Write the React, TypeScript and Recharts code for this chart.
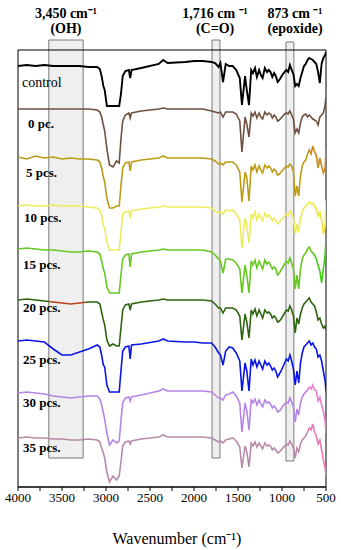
import React from 'react';
import { LineChart, Line, XAxis, YAxis, ReferenceArea, ReferenceDot } from 'recharts';

const wavenumbers = [4000, 3900, 3800, 3700, 3600, 3500, 3400, 3300, 3200, 3100,
  3070, 3050, 3030, 3015,
  2990, 2960, 2920, 2880, 2850, 2830, 2810, 2780, 2740, 2725, 2710,
  2600, 2400, 2350, 2300, 2100, 2000, 1900,
  1800, 1760, 1720, 1700, 1670, 1640, 1600, 1560, 1520, 1480,
  1455, 1420, 1400, 1375, 1350, 1330, 1307, 1285, 1260, 1240, 1220, 1195, 1170, 1150, 1130, 1110, 1090, 1070, 1050, 1030, 1010,
  990, 970, 950, 930, 910, 890, 870, 850, 830, 810, 790, 770, 750, 730, 710, 690, 670, 650, 630, 610, 590, 570, 550, 530, 510,
  500];

const seriesNames = ['control', '0 pc.', '5 pcs.', '10 pcs.', '15 pcs.', '20 pcs.', '25 pcs.', '30 pcs.', '35 pcs.'];
const seriesColors = ['#000000', '#6e5040', '#bc9c14', '#ecec5c', '#66c81e', '#2e6410', '#0a14e6', '#b585e6', '#b88aa8'];
const accentColors = ['#000000', '#6e5040', '#cc8a1c', '#f2e63a', '#3fd010', '#c0401a', '#0a14e6', '#e57fd0', '#ee78b8'];
const stackOffsets = [421, 378, 329, 281, 238, 187, 146, 94, 49];

const controlT = [0, 1, 0, 1, 0, 0, 0, 0, -1, -1,
  -3, -10, -20, -24,
  -40, -40, -40, -40, -40, -28, -10, -5, -4, -12, -4,
  -2, 2, 6, 3, 4, 5, 5,
  4, 3, -1, 3, -16, 2, 0, 0, -4, -12,
  -39, -10, -24, -39, -4, -7, -2, -11, -4, -9, -12, -2, -6, -4, -6, -11, -7, -10, -16, -14, -11,
  -8, -6, -4, -6, 1, -4, -8, -20, -18, -20, -12, -6, 0, 2, 6, 8, 7, 6, 4, 2, -6, -17, 2, 8, 11,
  14];
const pc0T = [0, 0, 0, 0, 0, 0, 0, 0, 0, -1,
  -3, -8, -16, -22,
  -40, -56, -58, -52, -54, -30, -12, -6, -4, -9, -4,
  -2, 0, 1, 0, 0, 0, 0,
  -2, -3, -4, -3, -8, -3, -3, -3, -5, -12,
  -43, -8, -15, -28, -4, -7, -3, -9, -4, -8, -10, -3, -6, -4, -5, -9, -6, -8, -12, -11, -9,
  -7, -5, -4, -5, -2, -6, -10, -24, -20, -24, -14, -8, -6, -5, -8, -6, -8, -10, -11, -12, -16, -8, -6, -4, 4,
  12];
const pcs5T = [1, -1, 2, 0, 1, -1, 0, -1, -1, -2,
  -4, -10, -19, -24,
  -40, -50, -50, -48, -48, -28, -10, -5, -4, -13, -4,
  -2, 0, 2, 0, 0, 0, 0,
  -1, -3, -6, -5, -7, -4, -4, -4, -7, -14,
  -44, -14, -20, -43, -8, -12, -7, -14, -8, -12, -15, -7, -10, -8, -10, -14, -11, -13, -17, -16, -14,
  -12, -10, -8, -9, -6, -8, -14, -38, -28, -38, -18, -8, -4, -2, 4, 8, 4, 12, 6, 3, -10, 0, -8, -15, -10,
  10];
const pcs10T = [0, 1, 0, 0, 1, 0, 0, 0, -1, -2,
  -4, -9, -20, -22,
  -36, -44, -44, -44, -44, -26, -8, -6, -5, -12, -5,
  -3, -1, 0, -1, -1, -1, -1,
  -2, -5, -7, -6, -8, -4, -5, -4, -8, -14,
  -42, -12, -20, -37, -8, -12, -6, -14, -8, -12, -15, -7, -11, -9, -11, -15, -12, -14, -18, -16, -14,
  -12, -10, -8, -9, -5, -8, -12, -28, -18, -26, -12, -6, -2, 0, 2, 4, 2, 3, 0, -3, -10, -6, -14, -28, -20,
  6];
const pcs15T = [0, 1, 0, -1, -1, -2, -3, -3, -2, -3,
  -5, -12, -20, -24,
  -38, -44, -44, -44, -44, -26, -10, -6, -5, -18, -5,
  -3, -1, 0, -1, -1, -1, -1,
  -3, -6, -10, -12, -24, -10, -10, -11, -14, -20,
  -44, -16, -26, -44, -12, -16, -11, -19, -12, -16, -20, -11, -15, -13, -16, -20, -18, -20, -26, -24, -21,
  -18, -15, -12, -14, -9, -14, -20, -40, -26, -40, -20, -10, -6, -4, 0, 2, -2, -4, -6, -10, -16, -22, -34, -20, -6,
  10];
const pcs20T = [0, 1, 0, -1, -2, -3, -4, -3, -2, -2,
  -4, -12, -20, -25,
  -40, -46, -44, -46, -46, -28, -10, -5, -4, -10, -4,
  -2, 0, 1, 0, 0, 0, 0,
  -1, -4, -8, -8, -13, -8, -8, -8, -10, -16,
  -40, -14, -22, -38, -10, -14, -9, -16, -10, -14, -18, -10, -13, -12, -14, -18, -16, -18, -22, -21, -19,
  -16, -13, -10, -11, -6, -10, -16, -33, -18, -24, -14, -8, -4, -2, 0, 2, -2, -4, -6, -12, -20, -18, -24, -28, -26,
  -30];
const pcs25T = [0, 1, 0, -1, -8, -14, -14, -11, -8, -4,
  -6, -14, -24, -26,
  -44, -51, -51, -51, -51, -30, -10, -6, -5, -18, -4,
  -3, 0, 2, 0, -1, -1, -2,
  -2, -6, -12, -14, -24, -10, -6, -7, -12, -20,
  -50, -22, -30, -50, -18, -24, -19, -26, -20, -24, -28, -20, -24, -22, -25, -29, -27, -30, -36, -33, -30,
  -26, -22, -18, -20, -14, -20, -28, -44, -30, -42, -22, -12, -6, -4, -2, 0, -4, -2, -6, -8, -16, -14, -20, -30, -40,
  -50];
const pcs30T = [0, 1, 0, -1, -3, -4, -5, -4, -3, -3,
  -6, -12, -20, -26,
  -40, -52, -47, -50, -48, -28, -10, -5, -4, -8, -4,
  -2, 2, 4, 2, 2, 2, 2,
  1, -2, -5, -5, -7, -2, -1, 1, -3, -10,
  -39, -10, -18, -37, -6, -10, -6, -12, -7, -11, -14, -7, -10, -9, -11, -15, -13, -15, -19, -18, -16,
  -13, -11, -9, -10, -5, -9, -14, -29, -16, -22, -10, -4, -1, 1, 3, 6, 4, 8, 3, 2, -8, -4, -12, -18, -28,
  -40];
const pcs35T = [0, 1, 0, 0, -1, -1, -2, -2, -1, -2,
  -4, -10, -15, -20,
  -34, -44, -38, -42, -38, -24, -8, -4, -3, -6, -3,
  -1, 1, 3, 1, 1, 1, 1,
  0, -2, -4, -3, -5, -2, -1, 0, -3, -9,
  -30, -8, -14, -29, -5, -8, -4, -9, -5, -8, -11, -5, -8, -7, -8, -12, -10, -12, -15, -14, -12,
  -10, -8, -6, -7, -3, -6, -10, -20, -10, -14, -6, -2, 0, 2, 6, 10, 8, 14, 6, 2, -6, -2, -12, -22, -30,
  -38];

const spectraT = [controlT, pc0T, pcs5T, pcs10T, pcs15T, pcs20T, pcs25T, pcs30T, pcs35T];

// wavenumber range (high, low) where each trace shows its accent colour
const accentFrom = [0, 0, 700, 650, 650, 3650, 0, 700, 720];
const accentTo = [0, 0, 500, 500, 500, 3230, 0, 500, 500];

const labelWn = [3955, 3886, 3909, 3932, 3943, 3943, 3943, 3943, 3943];
const labelT = [405, 364, 315, 270, 223, 180, 128, 85, 40];

const bandFrom = [3650, 1795, 955];
const bandTo = [3260, 1705, 865];
const bandTop = [447, 447, 445];
const bandBottom = [29, 29, 26];
const bandTitle = ['3,450 cm\u207B\u00B9', '1,716 cm \u207B\u00B9', '873 cm \u207B\u00B9'];
const bandGroup = ['(OH)', '(C=O)', '(epoxide)'];
const bandLabelWn = [3455, 1761, 852];
const bandLabelT = 474;

const xTicks = [4000, 3750, 3500, 3250, 3000, 2750, 2500, 2250, 2000, 1750, 1500, 1250, 1000, 750, 500];

const SERIF = 'Liberation Serif';
const X_MAX = 4000;
const X_MIN = 500;

const seriesData = spectraT.map((arr, s) =>
  wavenumbers.map((wn, i) => ({ wn, t: stackOffsets[s] + arr[i] }))
);

const frac = (wn: number) => (X_MAX - wn) / (X_MAX - X_MIN);

const XTick = (props: any) => {
  const { x, y, payload } = props;
  const v = payload.value;
  if (v % 500 !== 0) return null;
  return (
    <text x={x} y={y + 9} textAnchor="middle" fontFamily={SERIF} fontSize={13} fill="#000">
      {String(v)}
    </text>
  );
};

export default function App() {
  return (
    <div style={{ position: 'absolute', left: 0, top: 0, background: '#fff', fontFamily: SERIF }}>
      <LineChart width={341} height={550} margin={{ top: 50, right: 15, left: 18, bottom: 0 }}>
        <defs>
          {seriesColors.map((c, s) => {
            const a = frac(accentFrom[s] || X_MAX);
            const b = frac(accentTo[s] || X_MAX);
            return (
              <linearGradient key={'g' + s} id={'grad' + s} x1="0" y1="0" x2="1" y2="0">
                <stop offset={0} stopColor={c} />
                <stop offset={a} stopColor={c} />
                <stop offset={a} stopColor={accentColors[s]} />
                <stop offset={b} stopColor={accentColors[s]} />
                <stop offset={b} stopColor={c} />
                <stop offset={1} stopColor={c} />
              </linearGradient>
            );
          })}
        </defs>
        <XAxis
          type="number"
          dataKey="wn"
          domain={[X_MIN, X_MAX]}
          reversed
          allowDataOverflow
          ticks={xTicks}
          interval={0}
          tickSize={4}
          tickMargin={2}
          height={63}
          axisLine={{ stroke: '#000' }}
          tickLine={{ stroke: '#000' }}
          tick={<XTick />}
          label={{
            content: (p: any) => {
              const vb = p.viewBox || {};
              return (
                <text x={vb.x + vb.width / 2 + 5} y={vb.y + vb.height - 6} textAnchor="middle" fontFamily={SERIF} fontSize={16} fill="#000">
                  {'Wavenumber (cm\u207B\u00B9)'}
                </text>
              );
            },
          }}
        />
        <YAxis type="number" domain={[0, 437]} hide width={0} allowDataOverflow />
        {bandFrom.map((f, i) => (
          <ReferenceArea
            key={'band' + i}
            x1={f}
            x2={bandTo[i]}
            y1={bandBottom[i]}
            y2={bandTop[i]}
            ifOverflow="visible"
            fill="#efefef"
            fillOpacity={1}
            stroke="#7a7a7a"
            strokeWidth={1}
          />
        ))}
        <ReferenceArea x1={X_MAX} x2={X_MIN} y1={0} y2={437} ifOverflow="visible" fill="none" stroke="#000" strokeWidth={1} />
        {seriesData.map((d, s) => (
          <Line
            key={seriesNames[s]}
            data={d}
            dataKey="t"
            type="linear"
            stroke={'url(#grad' + s + ')'}
            strokeWidth={s === 0 ? 1.9 : 1.6}
            dot={false}
            isAnimationActive={false}
          />
        ))}
        {seriesNames.map((name, s) => (
          <ReferenceDot
            key={'lbl' + s}
            x={labelWn[s]}
            y={labelT[s]}
            r={0}
            ifOverflow="visible"
            fill="none"
            stroke="none"
            label={{
              content: (p: any) => {
                const vb = p.viewBox || {};
                return (
                  <text
                    x={vb.x}
                    y={vb.y}
                    dominantBaseline="central"
                    fontFamily={SERIF}
                    fontSize={s === 0 ? 14 : 13}
                    fontWeight={s === 0 ? 'normal' : 'bold'}
                    fill="#000"
                  >
                    {name}
                  </text>
                );
              },
            }}
          />
        ))}
        {bandTitle.map((title, i) => (
          <ReferenceDot
            key={'bl' + i}
            x={bandLabelWn[i]}
            y={bandLabelT}
            r={0}
            ifOverflow="visible"
            fill="none"
            stroke="none"
            label={{
              content: (p: any) => {
                const vb = p.viewBox || {};
                return (
                  <g>
                    <text x={vb.x} y={vb.y} textAnchor="middle" dominantBaseline="central" fontFamily={SERIF} fontSize={14} fontWeight="bold" fill="#000">
                      {title}
                    </text>
                    <text x={vb.x} y={vb.y + 15} textAnchor="middle" dominantBaseline="central" fontFamily={SERIF} fontSize={14} fontWeight="bold" fill="#000">
                      {bandGroup[i]}
                    </text>
                  </g>
                );
              },
            }}
          />
        ))}
      </LineChart>
    </div>
  );
}
